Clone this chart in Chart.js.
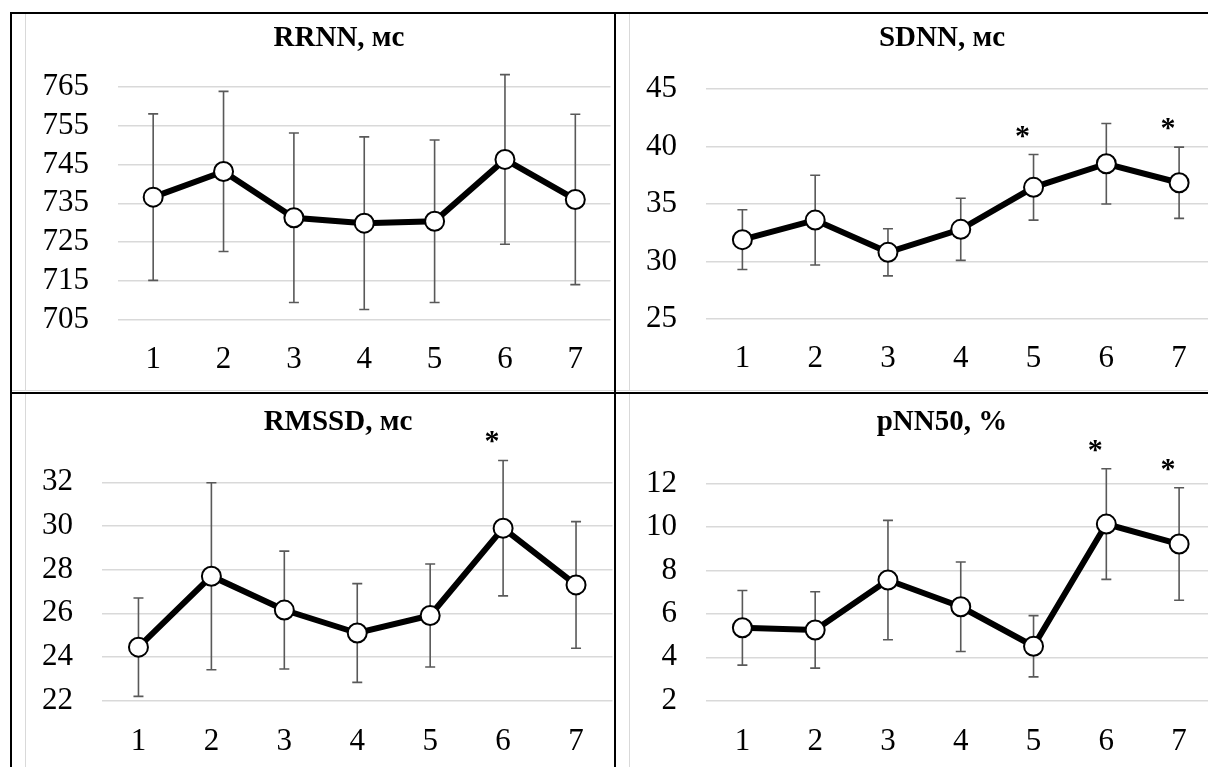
<!DOCTYPE html>
<html>
<head>
<meta charset="utf-8">
<script src="https://cdn.jsdelivr.net/npm/chart.js@4.4.0/dist/chart.umd.min.js"></script>
<style>
body { margin: 0; background: #fff; width: 1208px; height: 767px; position: relative; overflow: hidden; }
.ln { position: absolute; background: #000; }
.gl { position: absolute; background: #d9d9d9; }
.cell { position: absolute; overflow: hidden; }
.cell canvas { position: absolute; }
.ttl { position: absolute; width: 400px; text-align: center; font: bold 29px/29px "Liberation Serif", serif; color: #000; white-space: nowrap; }
</style>
</head>
<body>
<div class="ln" style="left:10px;top:12px;width:1198px;height:2px"></div>
<div class="ln" style="left:10px;top:392px;width:1198px;height:2px"></div>
<div class="ln" style="left:10px;top:12px;width:2px;height:755px"></div>
<div class="ln" style="left:614px;top:12px;width:2px;height:755px"></div>

<div class="cell" id="c1" style="left:12px;top:14px;width:602px;height:378px"><canvas id="chart1"></canvas></div>
<div class="cell" id="c2" style="left:616px;top:14px;width:592px;height:378px"><canvas id="chart2"></canvas></div>
<div class="cell" id="c3" style="left:12px;top:394px;width:602px;height:373px"><canvas id="chart3"></canvas></div>
<div class="cell" id="c4" style="left:616px;top:394px;width:592px;height:373px"><canvas id="chart4"></canvas></div>

<div class="gl" style="left:25px;top:14px;width:1px;height:377px"></div>
<div class="gl" style="left:629px;top:14px;width:1px;height:377px"></div>
<div class="gl" style="left:12px;top:390px;width:602px;height:1px"></div>
<div class="gl" style="left:616px;top:390px;width:592px;height:1px"></div>
<div class="gl" style="left:25px;top:394px;width:1px;height:373px"></div>
<div class="gl" style="left:629px;top:394px;width:1px;height:373px"></div>

<div class="ttl" style="left:139px;top:22px">RRNN, мс</div>
<div class="ttl" style="left:742px;top:22px">SDNN, мс</div>
<div class="ttl" style="left:138px;top:406px">RMSSD, мс</div>
<div class="ttl" style="left:742px;top:406px">pNN50, %</div>

<script>
// categories (measurement stages)
var stages = ['1', '2', '3', '4', '5', '6', '7'];

// RRNN, ms
var rrnnMean = [736.6, 743.2, 731.3, 729.9, 730.4, 746.3, 736.0];
var rrnnErr = [21.4, 20.6, 21.8, 22.2, 20.9, 21.8, 21.9];
var rrnnTicks = [705, 715, 725, 735, 745, 755, 765];
var rrnnStars = [];

// SDNN, ms
var sdnnMean = [31.9, 33.6, 30.8, 32.8, 36.45, 38.5, 36.85];
var sdnnErr = [2.6, 3.9, 2.05, 2.7, 2.85, 3.5, 3.1];
var sdnnTicks = [25, 30, 35, 40, 45];
var sdnnStars = [5, 7];

// RMSSD, ms
var rmssdMean = [24.45, 27.7, 26.15, 25.1, 25.9, 29.9, 27.3];
var rmssdErr = [2.25, 4.28, 2.7, 2.26, 2.36, 3.1, 2.9];
var rmssdTicks = [22, 24, 26, 28, 30, 32];
var rmssdStars = [6];

// pNN50, %
var pnnMean = [5.36, 5.26, 7.56, 6.33, 4.51, 10.14, 9.22];
var pnnErr = [1.72, 1.76, 2.75, 2.06, 1.41, 2.55, 2.59];
var pnnTicks = [2, 4, 6, 8, 10, 12];
var pnnStars = [6, 7];

// error bars + significance marks
var errorBars = {
    id: 'errorBars',
    beforeDatasetsDraw: function (chart) {
        var ctx = chart.ctx;
        var xs = chart.scales.x, ys = chart.scales.y;
        var ds = chart.data.datasets[0];
        ctx.save();
        ctx.strokeStyle = '#595959';
        ctx.lineWidth = 1.6;
        ds.data.forEach(function (v, i) {
            var e = ds.errors[i];
            var px = xs.getPixelForValue(i);
            var top = ys.getPixelForValue(v + e);
            var bot = ys.getPixelForValue(v - e);
            ctx.beginPath();
            ctx.moveTo(px, top); ctx.lineTo(px, bot);
            ctx.moveTo(px - 5, top); ctx.lineTo(px + 5, top);
            ctx.moveTo(px - 5, bot); ctx.lineTo(px + 5, bot);
            ctx.stroke();
        });
        ctx.fillStyle = '#000';
        ctx.font = 'bold 30px "Liberation Serif"';
        ctx.textAlign = 'center';
        ctx.textBaseline = 'alphabetic';
        ds.stars.forEach(function (k) {
            var i = k - 1;
            var px = xs.getPixelForValue(i);
            var top = ys.getPixelForValue(ds.data[i] + ds.errors[i]);
            ctx.fillText('*', px - 11, top - 10);
        });
        ctx.restore();
    }
};

function makeChart(id, box, mean, err, ticks, stars) {
    var canvas = document.getElementById(id);
    var cell = canvas.parentNode;
    canvas.width = box.w;
    canvas.height = box.h;
    canvas.style.left = (box.x - parseFloat(cell.style.left)) + 'px';
    canvas.style.top = (box.y - parseFloat(cell.style.top)) + 'px';

    new Chart(canvas, {
        type: 'line',
        data: {
            labels: stages,
            datasets: [{
                data: mean,
                errors: err,
                stars: stars,
                borderColor: '#000',
                borderWidth: 6,
                pointRadius: 9.5,
                pointBorderWidth: 2,
                pointBackgroundColor: '#fff',
                pointBorderColor: '#000',
                tension: 0,
                clip: false
            }]
        },
        options: {
            responsive: false,
            animation: false,
            layout: { padding: { top: box.top, left: 0, right: 0, bottom: 0 } },
            plugins: { legend: { display: false }, tooltip: { enabled: false } },
            scales: {
                x: {
                    offset: true,
                    grid: { display: false },
                    border: { display: false },
                    ticks: { color: '#000', padding: box.xp, font: { family: 'Liberation Serif', size: 31 } },
                    afterFit: function (s) { s.height = box.xh; }
                },
                y: {
                    min: ticks[0],
                    max: ticks[ticks.length - 1],
                    grid: { color: '#d9d9d9', lineWidth: 1.5, drawTicks: false },
                    border: { display: false },
                    ticks: { stepSize: ticks[1] - ticks[0], autoSkip: false, color: '#000', padding: 29, font: { family: 'Liberation Serif', size: 31 } },
                    afterFit: function (s) { s.width = box.yw; }
                }
            }
        },
        plugins: [errorBars]
    });
}

makeChart('chart1', { x: 26, y: 15, w: 596, h: 375, yw: 92, top: 71.7, xh: 70, xp: 13 }, rrnnMean, rrnnErr, rrnnTicks, rrnnStars);
makeChart('chart2', { x: 630, y: 15, w: 597, h: 375, yw: 76, top: 74, xh: 71, xp: 13 }, sdnnMean, sdnnErr, sdnnTicks, sdnnStars);
makeChart('chart3', { x: 26, y: 395, w: 598, h: 372, yw: 76, top: 87.3, xh: 66.3, xp: 15 }, rmssdMean, rmssdErr, rmssdTicks, rmssdStars);
makeChart('chart4', { x: 630, y: 395, w: 597, h: 372, yw: 76, top: 88.7, xh: 66.3, xp: 15 }, pnnMean, pnnErr, pnnTicks, pnnStars);
</script>
</body>
</html>
